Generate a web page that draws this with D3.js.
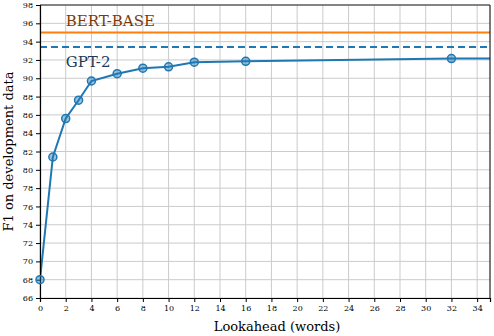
<!DOCTYPE html>
<html>
<head>
<meta charset="utf-8">
<script src="https://cdn.jsdelivr.net/npm/d3@7"></script>
<style>
  body { margin: 0; background: #fff; }
  svg text { font-family: "DejaVu Serif", serif; }
</style>
</head>
<body>
<svg id="chart" width="494" height="336"></svg>
<script>
"use strict";

// lookahead (words) and F1 on development data
const lookahead = [0, 1, 2, 3, 4, 6, 8, 10, 12, 16, 32, 64];
const f1Scores = [68.0, 81.4, 85.6, 87.6, 89.7, 90.5, 91.1, 91.25, 91.75, 91.85, 92.15, 92.3];
const baselineNames = ["BERT-BASE", "GPT-2"];
const baselineValues = [95.0, 93.4];
const xTicks = d3.range(0, 35, 2);
const yTicks = d3.range(66, 99, 2);

const svg = d3.select("#chart");
const margin = {top: 5, right: 4, bottom: 38, left: 40};
const width = 494 - margin.left - margin.right;
const height = 336 - margin.top - margin.bottom;

const chart = svg.append("g")
    .attr("transform", `translate(${margin.left},${margin.top})`);

const scaleX = d3.scaleLinear().domain([0, 35]).range([0, width]);
const scaleY = d3.scaleLinear().domain([66, 98]).range([height, 0]);

svg.append("defs").append("clipPath").attr("id", "clip")
    .append("rect").attr("width", width).attr("height", height);

// grid
chart.append("g")
    .attr("class", "grid")
    .selectAll("line.vx")
    .data(xTicks)
    .join("line")
    .attr("x1", d => scaleX(d)).attr("x2", d => scaleX(d))
    .attr("y1", 0).attr("y2", height)
    .attr("stroke", "#cbcbcb").attr("stroke-width", 1);
chart.append("g")
    .attr("class", "grid")
    .selectAll("line.hy")
    .data(yTicks)
    .join("line")
    .attr("x1", 0).attr("x2", width)
    .attr("y1", d => scaleY(d)).attr("y2", d => scaleY(d))
    .attr("stroke", "#cbcbcb").attr("stroke-width", 1);

// baselines
const baseColors = ["#ff7f0e", "#1f77b4"];
chart.selectAll("line.base")
    .data(baselineValues)
    .join("line")
    .attr("class", "base")
    .attr("x1", 0).attr("x2", width)
    .attr("y1", d => scaleY(d)).attr("y2", d => scaleY(d))
    .attr("stroke", (d, i) => baseColors[i])
    .attr("stroke-width", 2)
    .attr("stroke-dasharray", (d, i) => i === 1 ? "7,4" : null);

chart.append("text")
    .attr("x", scaleX(2))
    .attr("y", scaleY(baselineValues[0]) - 6)
    .attr("fill", "#7a3a0c")
    .attr("font-size", "15px")
    .text(baselineNames[0]);
chart.append("text")
    .attr("x", scaleX(2))
    .attr("y", scaleY(baselineValues[1]) + 20)
    .attr("fill", "#1c3a5a")
    .attr("font-size", "15px")
    .text(baselineNames[1]);

// main series
const points = lookahead.map((d, i) => ({x: d, y: f1Scores[i]}));
const plot = chart.append("g").attr("clip-path", "url(#clip)");
plot.append("path")
    .datum(points)
    .attr("fill", "none")
    .attr("stroke", "#1f77b4")
    .attr("stroke-width", 2)
    .attr("d", d3.line().x(d => scaleX(d.x)).y(d => scaleY(d.y)));
svg.append("g")
    .attr("transform", `translate(${margin.left},${margin.top})`)
    .selectAll("circle")
    .data(points.filter(d => d.x <= 35))
    .join("circle")
    .attr("cx", d => scaleX(d.x))
    .attr("cy", d => scaleY(d.y))
    .attr("r", 4)
    .attr("fill", "rgba(31,119,180,0.45)")
    .attr("stroke", "#1f77b4")
    .attr("stroke-width", 1.5);

// axes
const xAxis = chart.append("g")
    .attr("transform", `translate(0,${height})`)
    .call(d3.axisBottom(scaleX).tickValues(xTicks).tickSize(4).tickPadding(3));
const yAxis = chart.append("g")
    .call(d3.axisLeft(scaleY).tickValues(yTicks).tickSize(4).tickPadding(3));
[xAxis, yAxis].forEach(a => {
    a.selectAll("text")
        .attr("font-family", "DejaVu Serif")
        .attr("font-size", "8px")
        .attr("fill", "#000");
    a.selectAll("line").attr("stroke", "#000").attr("stroke-width", 1);
    a.select(".domain").attr("stroke", "#000").attr("stroke-width", 1.2);
});

// top and right spines
chart.append("line")
    .attr("x1", 0).attr("x2", width).attr("y1", 0).attr("y2", 0)
    .attr("stroke", "#222").attr("stroke-width", 1.2);
chart.append("line")
    .attr("x1", width).attr("x2", width).attr("y1", 0).attr("y2", height)
    .attr("stroke", "#222").attr("stroke-width", 1.2);

// axis labels
svg.append("text")
    .attr("x", margin.left + width / 2 + 12)
    .attr("y", 331)
    .attr("text-anchor", "middle")
    .attr("font-size", "13px")
    .text("Lookahead (words)");
svg.append("text")
    .attr("transform", `translate(13,${margin.top + height / 2}) rotate(-90)`)
    .attr("text-anchor", "middle")
    .attr("font-size", "13px")
    .text("F1 on development data");
</script>
</body>
</html>
